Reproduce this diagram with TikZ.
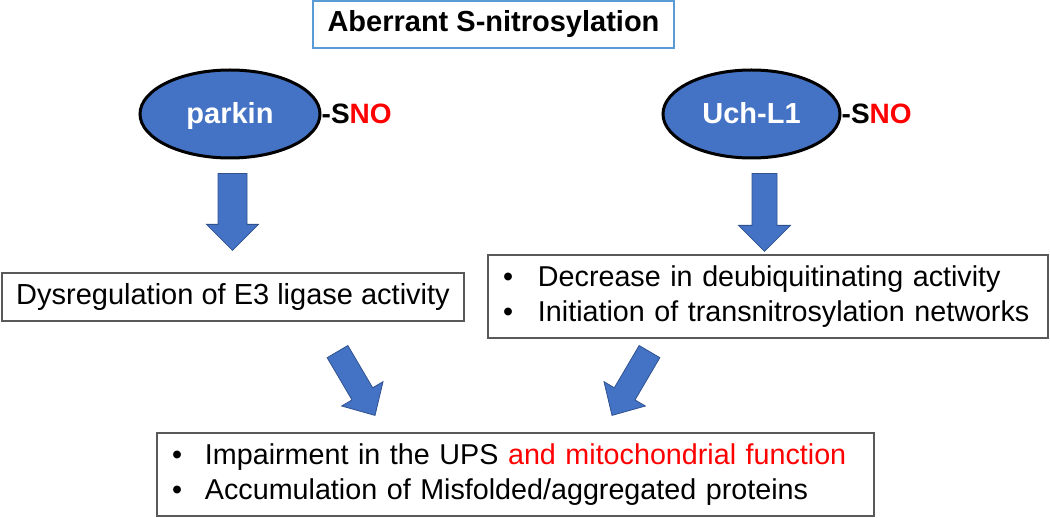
\documentclass[tikz,border=0pt]{standalone}
\usepackage{fontspec}
\setmainfont{Liberation Sans}
\usetikzlibrary{shapes.geometric,calc}
\definecolor{pblue}{HTML}{4472C4}
\definecolor{pdark}{HTML}{2F528F}
\definecolor{tblue}{HTML}{5B9BD5}
\definecolor{bgray}{HTML}{595959}
\definecolor{pred}{HTML}{FF0000}
\newcommand\blockarrow[5]{%
  \coordinate (hb) at ($(#2)!#5!(#1)$);
  \draw[barrow] ($(#1)!#3!90:(#2)$) -- ($(hb)!#3!90:(#2)$) -- ($(hb)!#4!90:(#2)$) -- (#2)
    -- ($(hb)!#4!-90:(#2)$) -- ($(hb)!#3!-90:(#2)$) -- ($(#1)!#3!-90:(#2)$) -- cycle;}
\begin{document}
\begin{tikzpicture}[x=1pt,y=-1pt,
  barrow/.style={fill=pblue,draw=pdark,line width=0.8pt,line join=miter},
  prot/.style={ellipse,draw=black,line width=3pt,fill=pblue,text=white,inner sep=0pt,
    text height=20pt,text depth=0pt,
    font=\fontsize{29}{30}\selectfont\bfseries},
  sno/.style={anchor=west,inner sep=0pt,font=\fontsize{28}{30}\selectfont\bfseries},
  txtbox/.style={draw=bgray,line width=1.2pt,rectangle,inner ysep=0pt,
    font=\fontsize{28.7}{34.5}\selectfont}]
\useasboundingbox (0,0) rectangle (1050,518);
\node[draw=tblue,line width=1.5pt,minimum width=361pt,minimum height=47pt,inner sep=0pt,
  font=\fontsize{29}{30}\selectfont\bfseries] (title) at (493.5,24.5) {Aberrant S-nitrosylation};
\node[prot,minimum width=180pt,minimum height=88pt] (parkin) at (230,114) {parkin};
\node[sno] (sno1) at (parkin.east) {-S\textcolor{pred}{NO}};
\node[prot,minimum width=177pt,minimum height=88pt] (uch) at (751.5,114) {Uch-L1};
\node[sno] (sno2) at (uch.east) {-S\textcolor{pred}{NO}};
\node[txtbox,minimum width=462pt,minimum height=48pt,inner xsep=0pt,font=\fontsize{29}{34}\selectfont] (e3) at (233,297)
  {Dysregulation of E3 ligase activity};
\node[txtbox,minimum width=560pt,minimum height=83pt,inner xsep=15pt,text width=530pt,align=left] (deub) at (768,296.5)
  {\makebox[35pt][l]{\textbullet}Decrease in deubiquitinating activity\\
   \makebox[35pt][l]{\textbullet}Initiation of transnitrosylation networks};
\node[txtbox,minimum width=717pt,minimum height=83pt,inner xsep=15pt,text width=687pt,align=left] (ups) at (515.5,474.5)
  {\makebox[33pt][l]{\textbullet}Impairment in the UPS \textcolor{pred}{and mitochondrial function}\\
   \makebox[33pt][l]{\textbullet}Accumulation of Misfolded/aggregated proteins};
% arrow anchors
\coordinate (a1s) at ($(parkin.south)+(2.5,14)$);
\coordinate (a1e) at ($(e3.north)+(-0.5,-22)$);
\coordinate (a2s) at ($(uch.south)+(13,14)$);
\coordinate (a2e) at ($(deub.north)+(-3.5,-3)$);
\coordinate (a3s) at ($(e3.south)+(104.5,30)$);
\coordinate (a3e) at ($(ups.north)+(-140.5,-17)$);
\coordinate (a4s) at ($(deub.south)+(-118.5,13)$);
\coordinate (a4e) at ($(ups.north)+(96.5,-17)$);
\blockarrow{a1s}{a1e}{14.5pt}{26pt}{26pt}
\blockarrow{a2s}{a2e}{12.5pt}{26pt}{26pt}
\blockarrow{a3s}{a3e}{12pt}{24pt}{25pt}
\blockarrow{a4s}{a4e}{12pt}{24pt}{25pt}
\end{tikzpicture}
\end{document}
